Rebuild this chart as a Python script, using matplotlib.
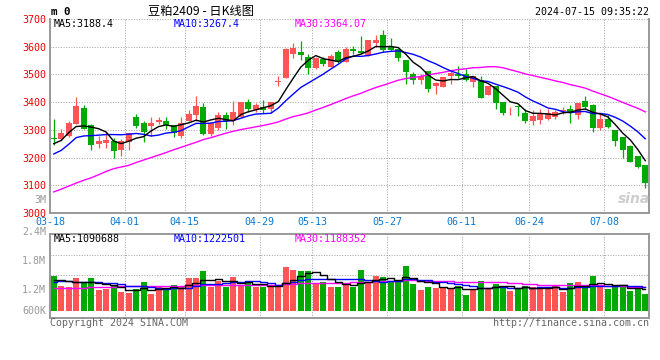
import matplotlib
matplotlib.use('Agg')
import matplotlib.pyplot as plt
import numpy as np
import pandas as pd

W, H = 660, 360

# trading days (exchange holidays removed)
holidays = ['2024-04-04', '2024-04-05', '2024-05-01', '2024-05-02', '2024-05-03', '2024-06-10']
days = pd.bdate_range('2024-03-18', '2024-07-15', freq='C', holidays=holidays)
dates = [d.strftime('%m-%d') for d in days]
tick_dates = ['03-18', '04-01', '04-15', '04-29', '05-13', '05-27', '06-11', '06-24', '07-08']

opens = [3270, 3268, 3279, 3321, 3379, 3317, 3250, 3254, 3261, 3226,
         3255, 3345, 3325, 3314, 3330, 3332, 3318, 3279, 3333, 3355,
         3381, 3286, 3306, 3354, 3336, 3345, 3400, 3371, 3381, 3377,
         3474, 3488, 3574, 3582, 3564, 3523, 3555, 3526, 3582, 3546,
         3592, 3586, 3568, 3612, 3643, 3598, 3592, 3552, 3500, 3481,
         3512, 3457, 3455, 3493, 3502, 3500, 3473, 3481, 3427, 3457,
         3401, 3370, 3385, 3360, 3332, 3336, 3338, 3348, 3368, 3374,
         3354, 3404, 3389, 3306, 3338, 3300, 3273, 3243, 3205, 3173]
highs = [3339, 3304, 3333, 3418, 3388, 3321, 3279, 3292, 3271, 3267,
         3290, 3357, 3333, 3345, 3345, 3345, 3318, 3345, 3371, 3421,
         3398, 3326, 3364, 3365, 3405, 3400, 3411, 3396, 3407, 3400,
         3496, 3596, 3613, 3621, 3574, 3564, 3562, 3574, 3588, 3600,
         3604, 3639, 3625, 3642, 3661, 3633, 3592, 3552, 3508, 3502,
         3512, 3473, 3490, 3514, 3532, 3518, 3496, 3496, 3457, 3457,
         3401, 3383, 3389, 3375, 3371, 3374, 3374, 3371, 3381, 3389,
         3398, 3421, 3395, 3357, 3354, 3300, 3273, 3246, 3205, 3173]
lows = [3246, 3258, 3276, 3321, 3303, 3226, 3233, 3235, 3199, 3206,
        3226, 3305, 3256, 3279, 3321, 3304, 3276, 3270, 3333, 3333,
        3282, 3279, 3300, 3304, 3318, 3345, 3365, 3365, 3362, 3362,
        3457, 3486, 3560, 3552, 3502, 3520, 3532, 3526, 3542, 3544,
        3574, 3574, 3568, 3598, 3580, 3583, 3548, 3467, 3467, 3467,
        3437, 3431, 3455, 3467, 3487, 3476, 3455, 3415, 3427, 3374,
        3354, 3354, 3350, 3326, 3318, 3321, 3336, 3338, 3357, 3326,
        3338, 3374, 3294, 3298, 3308, 3243, 3198, 3184, 3163, 3092]
closes = [3268, 3288, 3325, 3386, 3304, 3246, 3260, 3265, 3223, 3258,
          3288, 3315, 3294, 3325, 3337, 3318, 3288, 3325, 3357, 3386,
          3286, 3326, 3354, 3333, 3364, 3400, 3376, 3388, 3371, 3400,
          3476, 3593, 3595, 3569, 3523, 3560, 3538, 3568, 3544, 3592,
          3583, 3579, 3625, 3625, 3588, 3588, 3558, 3508, 3479, 3495,
          3449, 3469, 3490, 3505, 3493, 3481, 3493, 3415, 3457, 3398,
          3362, 3373, 3382, 3332, 3350, 3360, 3362, 3365, 3370, 3362,
          3398, 3381, 3306, 3338, 3312, 3258, 3226, 3185, 3165, 3110]

# volume in millions
volume_m = [1.75, 1.25, 1.20, 1.65, 1.42, 1.65, 1.05, 1.10, 1.30, 0.95,
            0.90, 1.10, 1.45, 0.85, 1.20, 1.15, 1.30, 1.20, 1.65, 1.65,
            2.00, 1.20, 1.50, 1.20, 1.70, 1.30, 1.45, 1.20, 1.20, 1.20,
            1.20, 2.20, 2.05, 2.00, 2.00, 1.40, 1.45, 1.20, 1.20, 1.40,
            1.20, 2.05, 1.40, 1.75, 1.70, 1.45, 1.45, 2.25, 1.35, 1.05,
            1.20, 1.15, 1.20, 1.15, 1.25, 0.80, 1.10, 1.50, 1.15, 1.37,
            1.20, 1.00, 1.15, 1.25, 1.20, 1.10, 1.10, 1.25, 0.95, 1.40,
            1.45, 1.20, 1.75, 1.20, 1.10, 1.30, 1.20, 1.00, 1.10, 0.85]

# moving averages before a full window is visible
ma5_head = [3250, 3262, 3290, 3312]
ma10_head = [3213, 3226, 3248, 3272, 3278, 3279, 3281, 3283, 3283]
ma30_head = [3076, 3086, 3097, 3108, 3118, 3127, 3138, 3150, 3160, 3166,
             3172, 3182, 3191, 3200, 3209, 3218, 3228, 3237, 3246, 3255,
             3265, 3272, 3280, 3288, 3295, 3301, 3306, 3311, 3316]
vma5_head = [1.55, 1.53, 1.50, 1.47]
vma10_head = [1.47, 1.48, 1.48, 1.47, 1.47, 1.47, 1.46, 1.42, 1.40]
vma30_head = [1.13, 1.13, 1.13, 1.14, 1.17, 1.19, 1.20, 1.20, 1.21, 1.24,
              1.25, 1.25, 1.25, 1.25, 1.25, 1.25, 1.25, 1.27, 1.29, 1.30,
              1.30, 1.30, 1.31, 1.31, 1.31, 1.32, 1.32, 1.32, 1.32]


def moving_avg(values, n, head):
    out = list(head)
    for i in range(len(head), len(values)):
        out.append(np.mean(values[i - n + 1:i + 1]))
    return np.array(out)


RED = '#ff5555'
GREEN = '#00aa00'
GRID = '#a8a8a8'
BORDER = '#999999'
MONO = 'DejaVu Sans Mono'
FS = 7.2


def fx(x):
    return x / W


def fy(y):
    return 1 - y / H


x = np.arange(len(closes))
o = np.array(opens)
c = np.array(closes)
colors = [RED if cc >= oo else GREEN for oo, cc in zip(opens, closes)]

fig = plt.figure(figsize=(W / 100, H / 100), dpi=100)
ax = fig.add_axes([fx(50), fy(213), 599 / W, 194 / H])
axv = fig.add_axes([fx(50), fy(318), 599 / W, 84 / H])

# price panel
ax.set_xlim(-0.5, len(x) - 0.5)
ax.set_ylim(3000, 3700)
for p in range(3100, 3701, 100):
    ax.axhline(p, color=GRID, lw=0.75, ls=(0, (1, 1.5)), zorder=0)
tick_pos = [dates.index(d) - 0.5 for d in tick_dates]
for t in tick_pos[1:]:
    ax.axvline(t, color=GRID, lw=0.75, ls=(0, (1, 1.5)), zorder=0)
    axv.axvline(t, color=GRID, lw=0.75, ls=(0, (1, 1.5)), zorder=0)

ax.vlines(x, lows, highs, colors=colors, lw=0.9, zorder=2)
body = np.maximum(np.abs(c - o), 3)
ax.bar(x, body, bottom=np.minimum(o, c), width=0.8, color=colors, lw=0, zorder=3)

ax.plot(x, moving_avg(closes, 30, ma30_head), color='#ff00ff', lw=1.0, zorder=4)
ax.plot(x, moving_avg(closes, 10, ma10_head), color='#0000ff', lw=1.0, zorder=4)
ax.plot(x, moving_avg(closes, 5, ma5_head), color='black', lw=1.0, zorder=5)

ax.set_xticks(tick_pos)
ax.set_xticklabels(tick_dates, color='#0a78d2', fontsize=FS, family=MONO)
ax.set_yticks(range(3000, 3701, 100))
ax.set_yticklabels([str(v) for v in range(3000, 3701, 100)], color='#ee0000',
                   fontsize=FS, family=MONO)
ax.tick_params(axis='x', length=0, pad=2.7)
ax.tick_params(axis='y', length=0, pad=3)
ax.spines['top'].set_visible(False)
for s in ['left', 'right', 'bottom']:
    ax.spines[s].set_color(BORDER)
    ax.spines[s].set_linewidth(1.4)

# volume panel
axv.set_xlim(-0.5, len(x) - 0.5)
axv.set_ylim(-0.35, 3.85)
for v in [0.8, 1.8, 2.8]:
    axv.axhline(v, color=GRID, lw=0.75, ls=(0, (1, 1.5)), zorder=0)
axv.bar(x, volume_m, width=0.8, color=colors, lw=0, zorder=2)
axv.plot(x, moving_avg(volume_m, 30, vma30_head), color='#ff00ff', lw=1.0,
         drawstyle='steps-mid', zorder=3)
axv.plot(x, moving_avg(volume_m, 10, vma10_head), color='#0000ff', lw=1.0,
         drawstyle='steps-mid', zorder=3)
axv.plot(x, moving_avg(volume_m, 5, vma5_head), color='black', lw=1.0,
         drawstyle='steps-mid', zorder=4)
axv.set_xticks([])
axv.set_yticks([])
for s in axv.spines.values():
    s.set_color(BORDER)
    s.set_linewidth(1.4)

# volume scale labels
for lab, yy in [('3M', 200), ('2.4M', 231.5), ('1.8M', 261), ('1.2M', 290), ('600K', 311)]:
    fig.text(fx(46), fy(yy), lab, ha='right', va='center', color='#999999',
             fontsize=FS, family=MONO)

# header
fig.text(fx(51), fy(12), 'm 0', ha='left', va='center', fontsize=7.8,
         family=MONO, weight='bold')
fig.text(fx(201), fy(11), '豆粕2409 - 日K线图', ha='center', va='center', fontsize=8.8,
         family=['Noto Sans CJK SC', 'DejaVu Sans'])
fig.text(fx(649), fy(12), '2024-07-15 09:35:22', ha='right', va='center',
         fontsize=FS, family=MONO)

# MA legends
for lab, xx, col in [('MA5:3188.4', 54, 'black'), ('MA10:3267.4', 174, '#0000ff'),
                     ('MA30:3364.07', 295, '#ff00ff')]:
    fig.text(fx(xx), fy(24), lab, ha='left', va='center', color=col,
             fontsize=FS, family=MONO)
for lab, xx, col in [('MA5:1090688', 54, 'black'), ('MA10:1222501', 174, '#0000ff'),
                     ('MA30:1188352', 295, '#ff00ff')]:
    fig.text(fx(xx), fy(238.5), lab, ha='left', va='center', color=col,
             fontsize=FS, family=MONO)

# footer and watermark
fig.text(fx(50), fy(323), 'Copyright 2024 SINA.COM', ha='left', va='center',
         color='#666666', fontsize=FS, family=MONO)
fig.text(fx(649), fy(323), 'http://finance.sina.com.cn', ha='right', va='center',
         color='#666666', fontsize=FS, family=MONO)
fig.text(fx(634), fy(199), 'sina', ha='center', va='center', color='#c8c8c8',
         fontsize=10, style='italic', weight='bold', alpha=0.9)

fig.savefig('out.png', dpi=100, facecolor='white')
